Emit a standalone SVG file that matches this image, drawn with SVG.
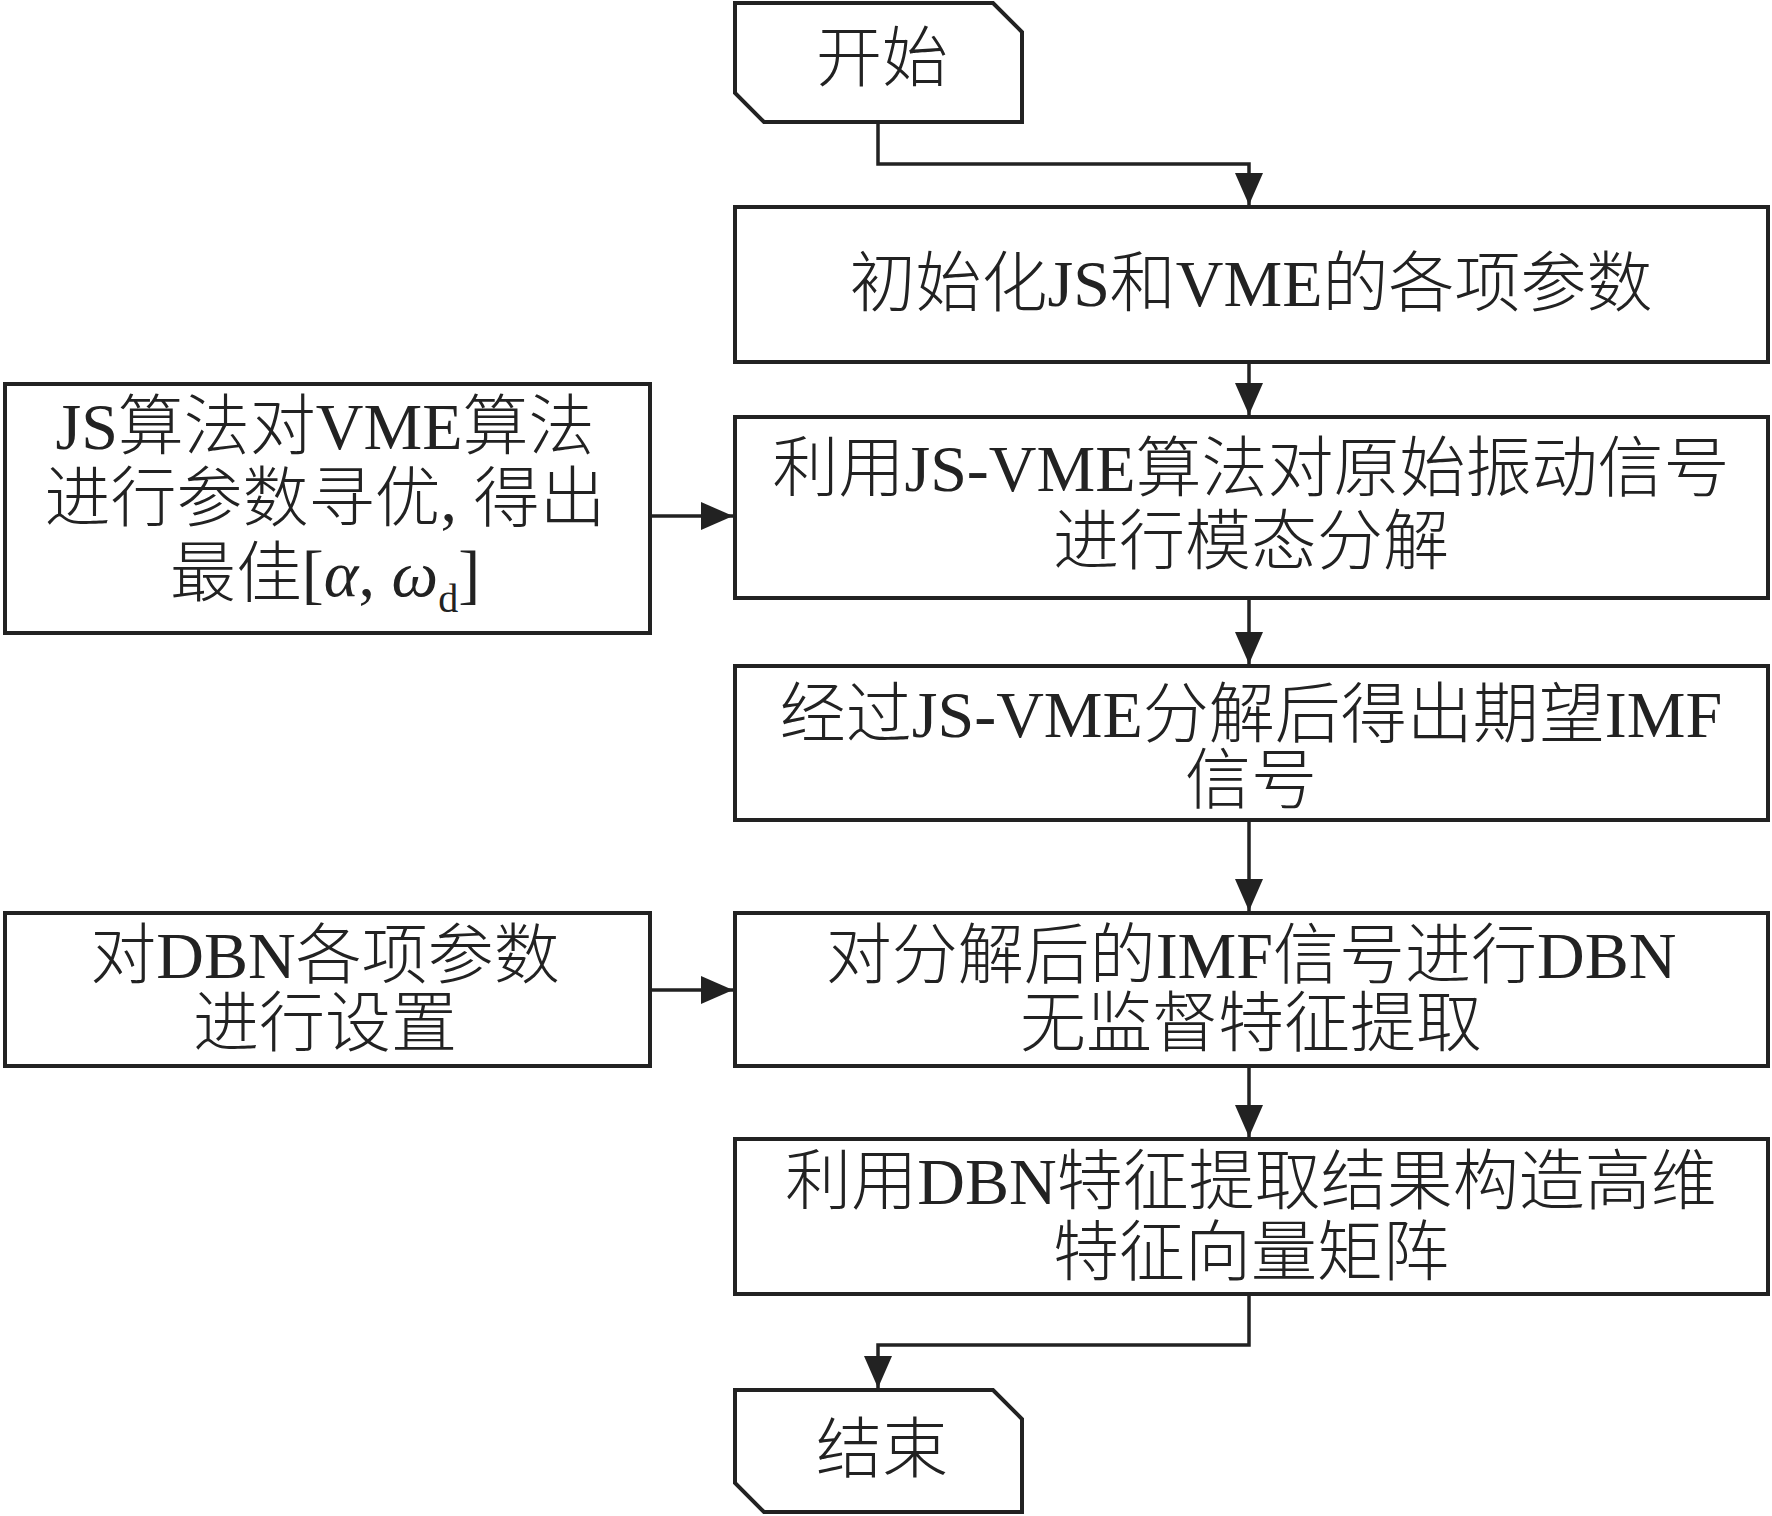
<svg xmlns="http://www.w3.org/2000/svg" width="1772" height="1516" viewBox="0 0 1772 1516">
<defs>
<style>
.box{fill:#fff;stroke:#222;stroke-width:4}
.ln{fill:none;stroke:#222;stroke-width:3.5}
text{font-family:"Liberation Serif","Noto Sans CJK SC",serif;font-size:66px;font-weight:300;fill:#222;text-anchor:middle}
.it{font-style:italic}
</style>
<marker id="ah" markerUnits="userSpaceOnUse" markerWidth="34" markerHeight="30" refX="32" refY="14" orient="auto">
<path d="M0,0 L32,14 L0,28 Z" fill="#222"/>
</marker>
</defs>
<rect width="1772" height="1516" fill="#fff"/>
<g id="connectors">
<path class="ln" d="M878,122 V164 H1249 V205" marker-end="url(#ah)"/>
<path class="ln" d="M1249,362 V415" marker-end="url(#ah)"/>
<path class="ln" d="M1249,598 V664" marker-end="url(#ah)"/>
<path class="ln" d="M1249,820 V911" marker-end="url(#ah)"/>
<path class="ln" d="M1249,1066 V1137" marker-end="url(#ah)"/>
<path class="ln" d="M1249,1294 V1345 H878 V1388" marker-end="url(#ah)"/>
<path class="ln" d="M650,516 H733" marker-end="url(#ah)"/>
<path class="ln" d="M650,990 H733" marker-end="url(#ah)"/>
</g>
<g id="start">
<path class="box" d="M735,3 H993 L1022,32 V122 H764 L735,93 Z"/>
<text x="882" y="81">开始</text>
</g>
<g id="init">
<rect class="box" x="735" y="207" width="1033" height="155"/>
<text x="1251" y="306">初始化JS和VME的各项参数</text>
</g>
<g id="decompose">
<rect class="box" x="735" y="417" width="1033" height="181"/>
<text x="1251" y="491">利用JS-VME算法对原始振动信号</text>
<text x="1251" y="564">进行模态分解</text>
</g>
<g id="optimize">
<rect class="box" x="5" y="384" width="645" height="249"/>
<text x="325" y="449">JS算法对VME算法</text>
<text x="325" y="521">进行参数寻优, 得出</text>
<text x="325" y="596">最佳[<tspan class="it">α</tspan>, <tspan class="it">ω</tspan><tspan font-size="40" dy="16">d</tspan><tspan dy="-16">]</tspan></text>
</g>
<g id="imf">
<rect class="box" x="735" y="666" width="1033" height="154"/>
<text x="1251" y="737">经过JS-VME分解后得出期望IMF</text>
<text x="1251" y="803">信号</text>
</g>
<g id="dbnfeat">
<rect class="box" x="735" y="913" width="1033" height="153"/>
<text x="1251" y="978">对分解后的IMF信号进行DBN</text>
<text x="1251" y="1046">无监督特征提取</text>
</g>
<g id="dbnset">
<rect class="box" x="5" y="913" width="645" height="153"/>
<text x="325" y="978">对DBN各项参数</text>
<text x="325" y="1046">进行设置</text>
</g>
<g id="matrix">
<rect class="box" x="735" y="1139" width="1033" height="155"/>
<text x="1251" y="1204">利用DBN特征提取结果构造高维</text>
<text x="1251" y="1275">特征向量矩阵</text>
</g>
<g id="end">
<path class="box" d="M735,1390 H993 L1022,1419 V1512 H764 L735,1483 Z"/>
<text x="882" y="1472">结束</text>
</g>
</svg>
